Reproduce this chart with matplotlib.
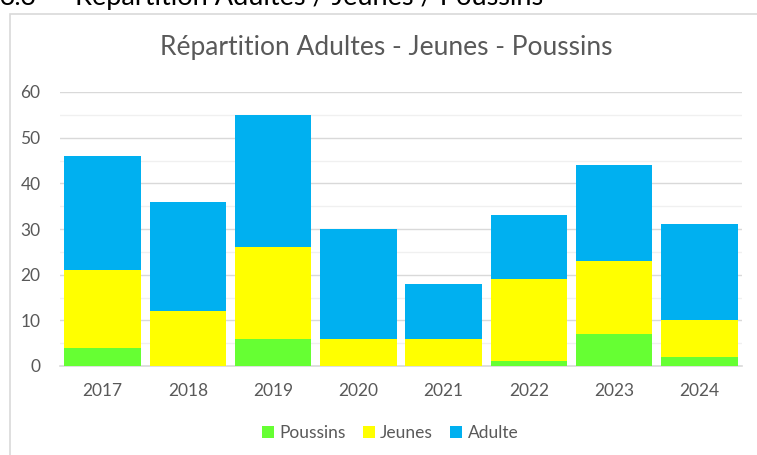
import matplotlib
matplotlib.use("Agg")
import matplotlib.pyplot as plt
from matplotlib.patches import Rectangle

years = ["2017", "2018", "2019", "2020", "2021", "2022", "2023", "2024"]
poussins = [4, 0, 6, 0, 0, 1, 7, 2]
jeunes = [17, 12, 20, 6, 6, 18, 16, 8]
adulte = [25, 24, 29, 24, 12, 14, 21, 21]

series_names = ["Poussins", "Jeunes", "Adulte"]
colors = ["#66FF33", "#FFFF00", "#00B0F0"]

plt.rcParams['font.family'] = ['Lato', 'DejaVu Sans']

W, H = 757, 455
fig = plt.figure(figsize=(W / 100, H / 100), dpi=100)

# chart frame
fig.add_artist(Rectangle((10 / W, -0.1), 1.2, 1 - 14 / H + 0.1, transform=fig.transFigure,
                         facecolor="white", edgecolor="#D9D9D9", linewidth=1.2, zorder=-5))

# heading above (cut off at the top like the reference)
fig.text(0 / W, 1 - 5 / H, "3.3", fontsize=19, color="black", ha="left", va="baseline")
fig.text(75 / W, 1 - 5 / H, "Répartition Adultes / Jeunes / Poussins", fontsize=19.5,
         color="black", ha="left", va="baseline")

ax = fig.add_axes([60 / W, 1 - 366 / H, (742 - 60) / W, (366 - 92) / H], zorder=2)
ax.set_facecolor("none")
x = list(range(len(years)))
bottom2 = [a + b for a, b in zip(poussins, jeunes)]
ax.bar(x, poussins, width=0.9, color=colors[0], zorder=3)
ax.bar(x, jeunes, width=0.9, bottom=poussins, color=colors[1], zorder=3)
ax.bar(x, adulte, width=0.9, bottom=bottom2, color=colors[2], zorder=3)

ax.set_xlim(-0.5, len(years) - 0.5)
ax.set_ylim(0, 60)
ax.set_yticks(range(0, 61, 10))
ax.set_yticks(range(5, 60, 10), minor=True)
ax.grid(axis="y", which="major", color="#D9D9D9", linewidth=1.0, zorder=0)
ax.grid(axis="y", which="minor", color="#F0F0F0", linewidth=1.0, zorder=0)
ax.set_xticks(x)
ax.set_xticklabels(years)
for s in ["top", "right", "left"]:
    ax.spines[s].set_visible(False)
ax.spines["bottom"].set_color("#D9D9D9")
ax.spines["bottom"].set_linewidth(1.2)
ax.tick_params(axis="both", which="both", length=0, labelsize=12.5, colors="#595959")
ax.tick_params(axis="x", pad=12)
ax.tick_params(axis="y", pad=14)

fig.text(386 / W, 1 - 48 / H, "Répartition Adultes - Jeunes - Poussins", fontsize=19,
         color="#595959", ha="center", va="center")

handles = [Rectangle((0, 0), 1, 1, facecolor=c) for c in colors]
fig.legend(handles, series_names, loc="center", bbox_to_anchor=(390 / W, 1 - 433 / H),
           ncol=3, frameon=False, fontsize=12.5, labelcolor="#595959",
           handlelength=0.7, handleheight=0.7, handletextpad=0.3, columnspacing=1.0)

fig.savefig("out.png", dpi=100)
